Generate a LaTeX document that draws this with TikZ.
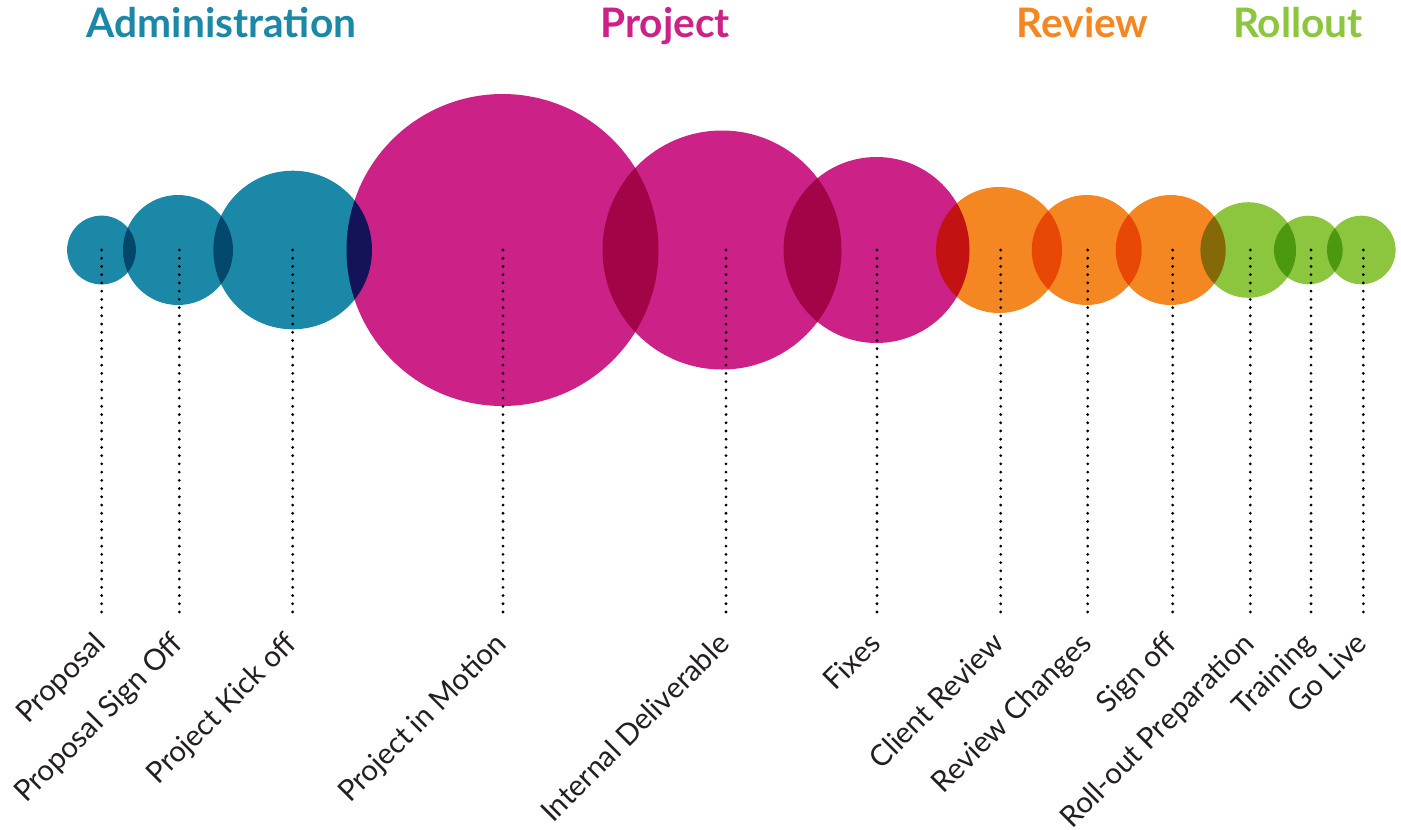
\documentclass[tikz,border=0pt]{standalone}
\usepackage{fontspec}
\setmainfont{Lato}
\definecolor{admin}{HTML}{1A88A6}
\definecolor{proj}{HTML}{CC2288}
\definecolor{revw}{HTML}{F48722}
\definecolor{roll}{HTML}{8CC63F}
\definecolor{ink}{HTML}{231F20}
\begin{document}
\begin{tikzpicture}[x=0.75pt,y=-0.75pt,
  bubble/.style={circle, inner sep=0pt, outer sep=0pt, draw=none},
  dotline/.style={black, line width=2.3pt, line cap=round, dash pattern=on 0pt off 6.17pt},
  steplabel/.style={font=\fontsize{22}{24}\selectfont, text=ink, rotate=45, anchor=north east, inner sep=0pt},
  phase/.style={font=\fontsize{30.5}{32}\selectfont\bfseries, anchor=base, inner sep=0pt}]
\useasboundingbox (0,0) rectangle (1401,829);

% phase headings
\node[phase, text=admin] (hadmin) at (221.5,37) {Administration};
\node[phase, text=proj]  (hproj)  at (665,37)   {Project};
\node[phase, text=revw]  (hrevw)  at (1082.5,37) {Review};
\node[phase, text=roll]  (hroll)  at (1298,37)  {Rollout};

% milestone bubbles, overlaps darkened by multiply blending
\begin{scope}[blend mode=multiply]
\node[bubble, fill=admin, minimum size=51.6pt]  (c1)  at (101.5,250)  {};
\node[bubble, fill=admin, minimum size=82.5pt]  (c2)  at (178,250)    {};
\node[bubble, fill=admin, minimum size=118.95pt] (c3) at (292.7,250)  {};
\node[bubble, fill=proj,  minimum size=234pt]   (c4)  at (502.5,250)  {};
\node[bubble, fill=proj,  minimum size=179.25pt] (c5) at (722,250)    {};
\node[bubble, fill=proj,  minimum size=139.5pt] (c6)  at (876.5,250)  {};
\node[bubble, fill=revw,  minimum size=94.5pt]  (c7)  at (999,250)    {};
\node[bubble, fill=revw,  minimum size=82.5pt]  (c8)  at (1086.7,250) {};
\node[bubble, fill=revw,  minimum size=82.5pt]  (c9)  at (1170.7,250) {};
\node[bubble, fill=roll,  minimum size=71.7pt]  (c10) at (1248.2,250) {};
\node[bubble, fill=roll,  minimum size=51.45pt] (c11) at (1308.3,250) {};
\node[bubble, fill=roll,  minimum size=51.45pt] (c12) at (1361.3,250) {};
\end{scope}

% dotted drop lines and rotated milestone labels
\foreach \i/\x/\txt in {1/101.7/Proposal, 2/179.3/Proposal Sign Off, 3/292.7/Project Kick off,
  4/503/Project in Motion, 5/726/Internal Deliverable, 6/877/Fixes,
  7/1000.7/Client Review, 8/1087.7/Review Changes, 9/1172.7/Sign off,
  10/1250.3/Roll-out Preparation, 11/1311/Training, 12/1363.3/Go Live}{
  \coordinate (t\i) at (\x,250);
  \coordinate (b\i) at (\x,612);
  \draw[dotline] (t\i) -- (b\i);
  \node[steplabel] (l\i) at (\x-10,630) {\txt};
}
\end{tikzpicture}
\end{document}
